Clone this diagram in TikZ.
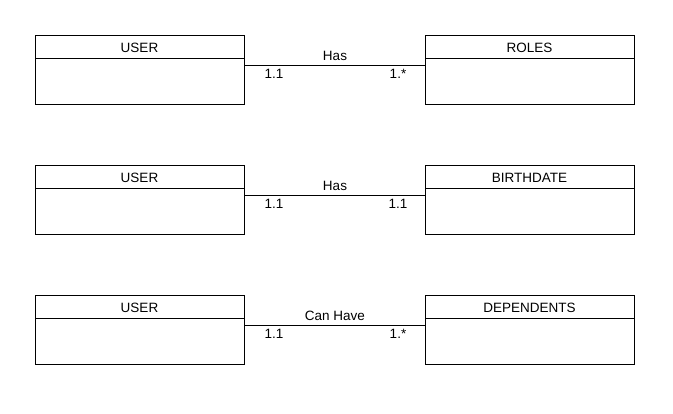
\documentclass[tikz,border=0pt]{standalone}
\usepackage{fontspec}
\setmainfont{Liberation Sans}
\begin{document}
\begin{tikzpicture}[x=1pt,y=-1pt,
  entity/.style={draw=black, line width=0.8pt, minimum width=209pt, minimum height=69pt, inner sep=0pt, outer sep=0pt, anchor=north west},
  ttl/.style={font=\fontsize{13.5}{15}\selectfont, inner sep=0pt},
  lbl/.style={font=\fontsize{13.5}{15}\selectfont, inner sep=0pt},
  conn/.style={draw=black, line width=0.8pt}]
\useasboundingbox[fill=white] (0,0) rectangle (673,413);
\foreach \nm/\y/\rt/\rel/\lm/\rm in {a/35/ROLES/Has/1.1/1.*, b/165/BIRTHDATE/Has/1.1/1.1, c/295/DEPENDENTS/Can Have/1.1/1.*}{
  \node[entity] (u\nm) at (35,\y) {};
  \node[entity] (r\nm) at (425,\y) {};
  \draw[line width=0.8pt] ([yshift=-23.5pt]u\nm.north west) -- ([yshift=-23.5pt]u\nm.north east);
  \draw[line width=0.8pt] ([yshift=-23.5pt]r\nm.north west) -- ([yshift=-23.5pt]r\nm.north east);
  \node[ttl] (ut\nm) at ([yshift=-12.5pt]u\nm.north) {USER};
  \node[ttl] (rt\nm) at ([yshift=-12.5pt]r\nm.north) {\rt};
  \draw[conn] ([yshift=4.5pt]u\nm.east) -- ([yshift=4.5pt]r\nm.west);
  \node[lbl] (rel\nm) at (335,\y+21) {\rel};
  \node[lbl] (lm\nm) at (274,\y+39) {\lm};
  \node[lbl] (rm\nm) at (398,\y+39) {\rm};
}
\end{tikzpicture}
\end{document}
